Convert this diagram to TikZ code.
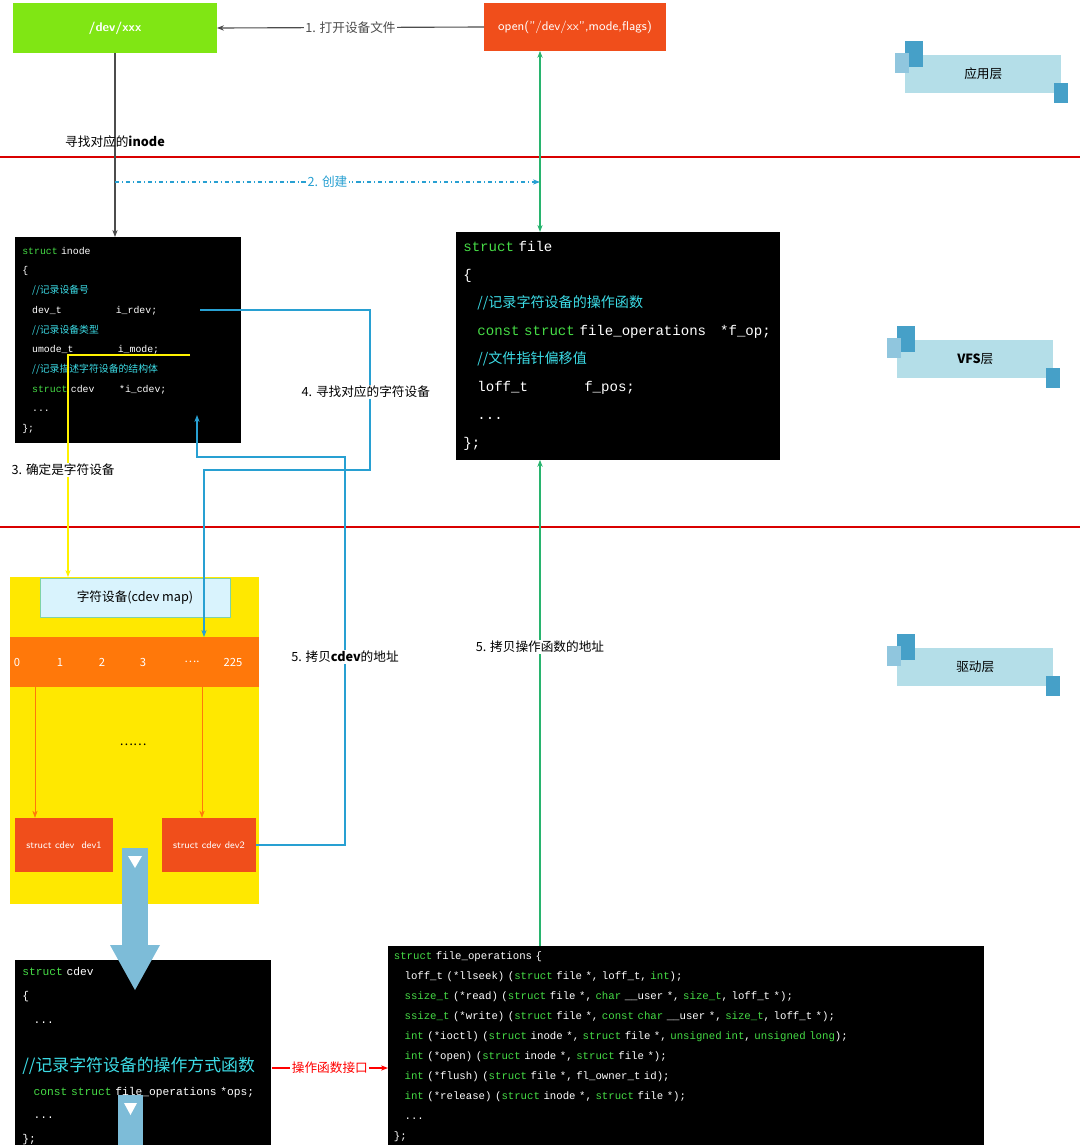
\documentclass[tikz,border=0pt]{standalone}
\usepackage{fontspec}
\setmainfont{Noto Sans CJK SC}
\setmonofont{Liberation Mono}
\newfontfamily\cjk{Noto Sans CJK SC}
\usetikzlibrary{arrows.meta,positioning,calc}
\definecolor{devgreen}{RGB}{128,230,20}
\definecolor{hotred}{RGB}{240,78,27}
\definecolor{maporange}{RGB}{255,120,10}
\definecolor{mapyellow}{RGB}{255,232,0}
\definecolor{kwgreen}{RGB}{70,220,70}
\definecolor{cmcyan}{RGB}{60,220,230}
\definecolor{linkblue}{RGB}{40,160,210}
\definecolor{linkgreen}{RGB}{40,180,110}
\definecolor{tagblue}{RGB}{180,222,232}
\definecolor{tagdark}{RGB}{70,160,200}
\newcommand{\kw}[1]{\textcolor{kwgreen}{#1}}
\newcommand{\cm}[1]{\textcolor{cmcyan}{\cjk #1}}
\tikzset{
  topbox/.style={
    rectangle, fill=#1, text=white, inner sep=0pt,
    font=\sffamily\small
  },
  code/.style={
    rectangle, fill=black, text=white, anchor=north west,
    align=left, inner sep=5pt, font=\ttfamily
  },
  cell/.style={
    rectangle, fill=hotred, text=white, inner sep=0pt,
    minimum height=1.35cm, font=\sffamily\scriptsize
  },
  lbl/.style={fill=white, inner sep=1pt, font=\small},
  tag/.style={
    rectangle, fill=tagblue, minimum height=0.95cm,
    font=\small, inner sep=0pt
  },
  arrow/.style={-{Stealth[length=5pt]}, thick}
}
\begin{document}
\begin{tikzpicture}[x=0.025cm, y=-0.025cm]
  \useasboundingbox (0,0) rectangle (1080,1145);

  % layer borders
  \draw[red!85!black, thick] (0,157) -- (1080,157);
  \draw[red!85!black, thick] (0,527) -- (1080,527);

  % top row
  \node[topbox=devgreen, minimum width=5.08cm, minimum height=1.25cm,
        font=\sffamily\bfseries\small] (dev) at (115,28) {/dev/xxx};
  \node[topbox=hotred, minimum width=4.53cm, minimum height=1.18cm]
        (open) at (575,27) {open("/dev/xx",mode,flags)};
  \draw[arrow, gray!60!black] (open.west) -- node[lbl] {1. 打开设备文件} (dev.east);

  % code blocks
  \node[code, text width=5.3cm, minimum height=5.15cm,
        font=\ttfamily\fontsize{7}{14}\selectfont] (inode) at (15,237) {%
    \kw{struct} inode\\
    \{\\
    \quad\cm{//记录设备号}\\
    \quad dev\_t\hspace{5.5em}i\_rdev;\\
    \quad\cm{//记录设备类型}\\
    \quad umode\_t\hspace{4.5em}i\_mode;\\
    \quad\cm{//记录描述字符设备的结构体}\\
    \quad\kw{struct} cdev\hspace{2.5em}*i\_cdev;\\
    \quad ...\\
    \};};
  \node[code, text width=7.75cm, minimum height=5.68cm,
        font=\ttfamily\fontsize{10}{20}\selectfont] (file) at (456,232) {%
    \kw{struct} file\\
    \{\\
    \quad\cm{//记录字符设备的操作函数}\\
    \quad\kw{const struct} file\_operations\quad *f\_op;\\
    \quad\cm{//文件指针偏移值}\\
    \quad loff\_t\hspace{4em}f\_pos;\\
    \quad ...\\
    \};};
  \node[code, text width=6.05cm, minimum height=4.3cm,
        font=\ttfamily\fontsize{8}{17}\selectfont] (cdev) at (15,960) {%
    \kw{struct} cdev\\
    \{\\
    \quad ...\\
    \quad\cm{\large//记录字符设备的操作方式函数}\\
    \quad\kw{const struct} file\_operations *ops;\\
    \quad ...\\
    \};};
  \node[code, text width=14.6cm, minimum height=4.98cm, inner sep=4pt,
        font=\ttfamily\fontsize{7.6}{14.2}\selectfont] (fops) at (388,946) {%
    \kw{struct} file\_operations \{\\
    \quad loff\_t (*llseek) (\kw{struct} file *, loff\_t, \kw{int});\\
    \quad\kw{ssize\_t} (*read) (\kw{struct} file *, \kw{char} \_\_user *, \kw{size\_t}, loff\_t *);\\
    \quad\kw{ssize\_t} (*write) (\kw{struct} file *, \kw{const char} \_\_user *, \kw{size\_t}, loff\_t *);\\
    \quad\kw{int} (*ioctl) (\kw{struct} inode *, \kw{struct} file *, \kw{unsigned int}, \kw{unsigned long});\\
    \quad\kw{int} (*open) (\kw{struct} inode *, \kw{struct} file *);\\
    \quad\kw{int} (*flush) (\kw{struct} file *, fl\_owner\_t id);\\
    \quad\kw{int} (*release) (\kw{struct} inode *, \kw{struct} file *);\\
    \quad ...\\
    \};};

  % cdev map
  \fill[mapyellow] (10,577) rectangle (259,904);
  \node[rectangle, fill=cyan!15, draw=linkgreen!60, minimum width=4.75cm,
        minimum height=0.98cm, font=\small] (map) at (135,598) {字符设备(cdev map)};
  \fill[maporange] (10,637) rectangle (259,687);
  \foreach \x/\t in {17/0, 60/1, 102/2, 143/3, 192/{\dots.}, 233/225}
    \node[font=\footnotesize, text=white] at (\x,662) {\t};
  \node[font=\small] (gap) at (133,745) {\dots\dots};
  \node[cell, minimum width=2.45cm] (dev1) at (64,845) {struct cdev \ dev1};
  \node[cell, minimum width=2.35cm] (dev2) at (209,845) {struct cdev dev2};
  \coordinate (row1) at (35,687);
  \coordinate (row2) at (202,687);
  \draw[arrow, maporange, thin] (row1) -- (row1 |- dev1.north);
  \draw[arrow, maporange, thin] (row2) -- (row2 |- dev2.north);

  % fat arrows
  \fill[tagdark!70] (122,848) rectangle (148,945);
  \fill[tagdark!70] (110,945) -- (160,945) -- (135,990) -- cycle;
  \fill[tagdark!70] (118,1095) rectangle (143,1145);
  \fill[white] (124,1103) -- (137,1103) -- (130.5,1115) -- cycle;
  \fill[white] (128,856) -- (142,856) -- (135,868) -- cycle;

  % links
  \coordinate (dn) at (115,182);
  \draw[arrow, gray!60!black] (dev.south) -- (dn) -- (115,237);
  \node[font=\small] (find) at (115,142) {寻找对应的\textbf{inode}};
  \draw[arrow, linkblue, thick, dash dot] (dn) -- node[lbl] {2. 创建} (540,182);
  \draw[{Stealth[length=5pt]}-{Stealth[length=5pt]}, linkgreen, thick]
    (open.south -| 540,0) -- (file.north -| 540,0);
  \draw[arrow, linkgreen] (fops.north -| 540,0) -- (file.south -| 540,0);
  \node[lbl] (copyops) at (540,647) {5. 拷贝操作函数的地址};

  \coordinate (imode) at (190,355);
  \draw[arrow, yellow, thick] (imode) -- (68,355) -- (68,577);
  \node[lbl, anchor=west] (char) at (10,470) {3. 确定是字符设备};

  \coordinate (irdev) at (200,310);
  \draw[arrow, linkblue, thick] (irdev) -- (370,310) -- (370,470) -- (204,470) -- (204,637);
  \node[lbl, anchor=west] (findchar) at (300,392) {4. 寻找对应的字符设备};

  \coordinate (icdev) at (197,415);
  \draw[arrow, linkblue, thick] (dev2.east) -- (345,845) -- (345,457) -- (197,457) -- (icdev);
  \node[lbl] (copycdev) at (345,657) {5. 拷贝\textbf{cdev}的地址};

  \draw[arrow, red] (cdev.east |- 0,1068) -- node[lbl] {操作函数接口} (fops.west |- 0,1068);

  % layer tags
  \foreach \y/\w/\t/\n in {74/905/应用层/app, 359/897/\textbf{VFS}层/vfs, 667/897/驱动层/drv} {
    \node[tag, minimum width=3.9cm, anchor=west] (\n) at (\w,\y) {\t};
    \fill[tagdark] ($(\n.north west)+(0,-14)$) rectangle ++(18,26);
    \fill[tagdark!60] ($(\n.north west)+(-10,-2)$) rectangle ++(14,20);
    \fill[tagdark] ($(\n.south east)+(-8,-10)$) rectangle ++(14,20);
  }
\end{tikzpicture}
\end{document}
